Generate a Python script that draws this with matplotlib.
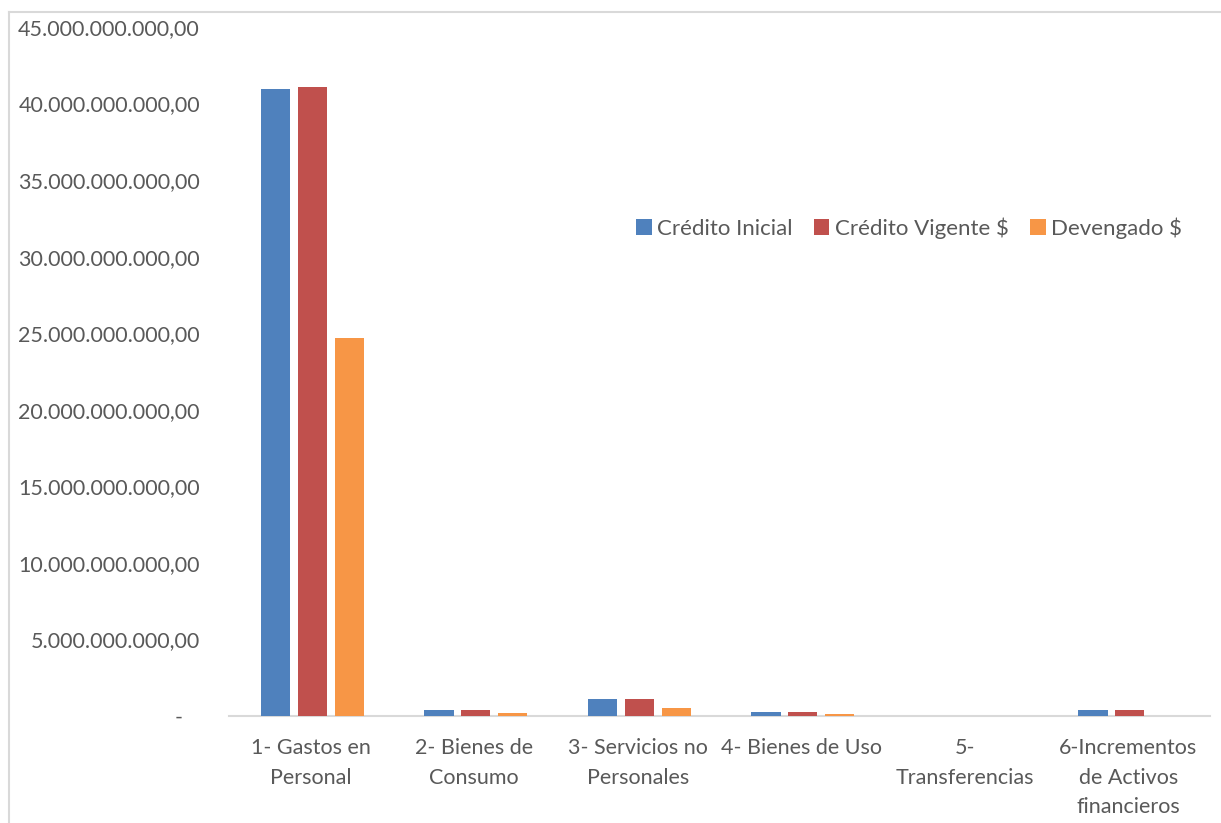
import matplotlib
matplotlib.use("Agg")
import matplotlib.pyplot as plt
from matplotlib.lines import Line2D
import numpy as np

plt.rcParams['font.family'] = ['Lato', 'DejaVu Sans']

categorias = ["1- Gastos en\nPersonal", "2- Bienes de\nConsumo", "3- Servicios no\nPersonales",
              "4- Bienes de Uso", "5-\nTransferencias", "6-Incrementos\nde Activos\nfinancieros"]
credito_inicial = [40.93e9, 0.39e9, 1.11e9, 0.24e9, 0.0, 0.37e9]
credito_vigente = [41.08e9, 0.39e9, 1.11e9, 0.26e9, 0.0, 0.37e9]
devengado = [24.69e9, 0.22e9, 0.52e9, 0.11e9, 0.0, 0.0]

series = ["Crédito Inicial", "Crédito Vigente $", "Devengado $"]
colores = ["#4f81bd", "#c0504d", "#f79646"]
yticks = np.arange(0, 45e9 + 1, 5e9)


def fmt(v):
    if v == 0:
        return "-   "
    s = f"{int(v):,}".replace(",", ".")
    return s + ",00"


fig = plt.figure(figsize=(12.21, 8.23), dpi=100)
ax = fig.add_axes([0.1876, 0.13, 0.8034, 0.8372])

x = np.arange(len(categorias))
w = 0.178
off = 0.226
for i, (vals, nombre, c) in enumerate(zip([credito_inicial, credito_vigente, devengado], series, colores)):
    ax.bar(x + (i - 1) * off + 0.01, vals, width=w, color=c, label=nombre, zorder=3)

ax.set_xlim(-0.5, len(categorias) - 0.5)
ax.set_ylim(0, 45e9)
ax.set_yticks(yticks)
ax.set_yticklabels([fmt(v) for v in yticks])
ax.set_xticks(x)
ax.set_xticklabels(categorias, linespacing=1.6)

for s in ["top", "right", "left"]:
    ax.spines[s].set_visible(False)
ax.spines["bottom"].set_color("#d9d9d9")
ax.spines["bottom"].set_linewidth(1.5)
ax.tick_params(axis="both", length=0, labelsize=15.5, colors="#595959")
ax.tick_params(axis="y", pad=21)
ax.tick_params(axis="x", pad=16)

leg = ax.legend(loc="center left", bbox_to_anchor=(0.415, 0.708), ncol=3, frameon=False,
                fontsize=16, handlelength=0.7, handleheight=0.7, handletextpad=0.25,
                columnspacing=0.95, labelcolor="#595959", borderaxespad=0, borderpad=0)

# borde del grafico
fig.add_artist(Line2D([0.0074, 0.0074], [0, 0.9854], color="#d9d9d9", lw=1.5))
fig.add_artist(Line2D([0.0074, 1.0], [0.9854, 0.9854], color="#d9d9d9", lw=1.5))

fig.savefig("out.png", dpi=100)
